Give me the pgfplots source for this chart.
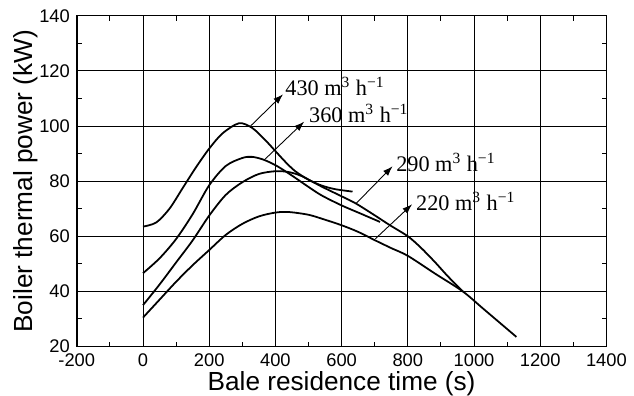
\documentclass[border=0pt]{standalone}
\usepackage{fontspec}
\setmainfont{Liberation Sans}
\newfontfamily\tnr{Liberation Serif}
\usepackage{pgfplots}
\pgfplotsset{compat=1.18}
\usetikzlibrary{arrows.meta}
\begin{document}
\begin{tikzpicture}
\begin{axis}[
  at={(0,0)}, anchor=south west,
  scale only axis, width=269pt, height=168pt,
  xmin=-200, xmax=1400, ymin=20, ymax=140,
  xtick={-200,0,...,1400}, ytick={20,40,...,140},
  minor xtick={-100,100,...,1300}, minor ytick={30,50,...,130},
  grid=major, major grid style={black, line width=0.5pt},
  tick align=inside, major tick length=2.5pt, minor tick length=2.5pt,
  tick style={black, line width=0.5pt},
  axis line style={line width=0.75pt},
  ticklabel style={font=\fontsize{9.3}{11}\selectfont},
  /pgf/number format/assume math mode=true,
  /pgf/number format/1000 sep={},
  xlabel={Bale residence time (s)},
  ylabel={Boiler thermal power (kW)},
  label style={font=\fontsize{13.3}{15}\selectfont},
  xlabel style={at={(axis description cs:0.5,-0.113)}, anchor=center},
  ylabel style={at={(axis description cs:-0.0958,0.5)}, anchor=center},
]
% 430 m3/h
\addplot[smooth, black, line width=0.9pt] coordinates {
(0,63.5) (40,65) (80,70) (120,77.5) (160,85) (200,91.8) (240,97.3) (290,101) (330,99.3) (370,94.8) (400,90.9) (430,87) (460,83.6) (500,80.5) (540,78.4) (580,77.1) (633,76.2)
};
% 360 m3/h
\addplot[smooth, black, line width=0.9pt] coordinates {
(0,46.6) (50,52) (100,59) (150,68) (200,78.5) (250,85.5) (300,88.4) (330,88.8) (364,87.8) (400,85.8) (430,83.6) (460,81.2) (500,77.9) (540,74.8) (600,71.2) (660,68.1) (716,65.2)
};
% 290 m3/h
\addplot[smooth, black, line width=0.9pt] coordinates {
(0,35) (50,42.5) (100,50.5) (150,58.5) (200,67.5) (250,75) (300,79.6) (350,82.6) (400,83.6) (440,83.3) (480,81.8) (540,78) (600,74.5) (643,71.9) (700,67.6) (746,64) (800,60) (840,55.8) (883,50.5) (920,45.6) (966,40)
};
% 220 m3/h
\addplot[smooth, black, line width=0.9pt] coordinates {
(0,30.5) (50,37) (100,43.5) (150,49.5) (200,55) (250,60.5) (300,64.5) (350,67.2) (400,68.6) (440,68.8) (500,67.8) (550,66) (600,64) (650,61.6) (700,58.6) (750,55.7) (800,52.9) (883,46.4) (966,40) (1030,33.5) (1128,23.5)
};
\draw[-{Latex[length=5pt,width=3.5pt]}, line width=0.45pt] (axis cs:325,100) -- (axis cs:423,111.5);
\draw[-{Latex[length=5pt,width=3.5pt]}, line width=0.45pt] (axis cs:369,88) -- (axis cs:487,101.6);
\draw[-{Latex[length=5pt,width=3.5pt]}, line width=0.45pt] (axis cs:643,71.8) -- (axis cs:754,85.4);
\draw[-{Latex[length=5pt,width=3.5pt]}, line width=0.45pt] (axis cs:702,59.1) -- (axis cs:813,71.6);
\node[anchor=west, inner sep=0pt, font=\tnr\fontsize{11.3}{13}\selectfont] at (axis cs:429,114.4) {430 m\textsuperscript{3} h\textsuperscript{−1}};
\node[anchor=west, inner sep=0pt, font=\tnr\fontsize{11.3}{13}\selectfont] at (axis cs:501,104.5) {360 m\textsuperscript{3} h\textsuperscript{−1}};
\node[anchor=west, inner sep=0pt, font=\tnr\fontsize{11.3}{13}\selectfont] at (axis cs:764,86.9) {290 m\textsuperscript{3} h\textsuperscript{−1}};
\node[anchor=west, inner sep=0pt, font=\tnr\fontsize{11.3}{13}\selectfont] at (axis cs:824,72.5) {220 m\textsuperscript{3} h\textsuperscript{−1}};
\end{axis}
\pgfresetboundingbox
\path (-39pt,-25pt) rectangle (283pt,176pt);
\end{tikzpicture}
\end{document}
